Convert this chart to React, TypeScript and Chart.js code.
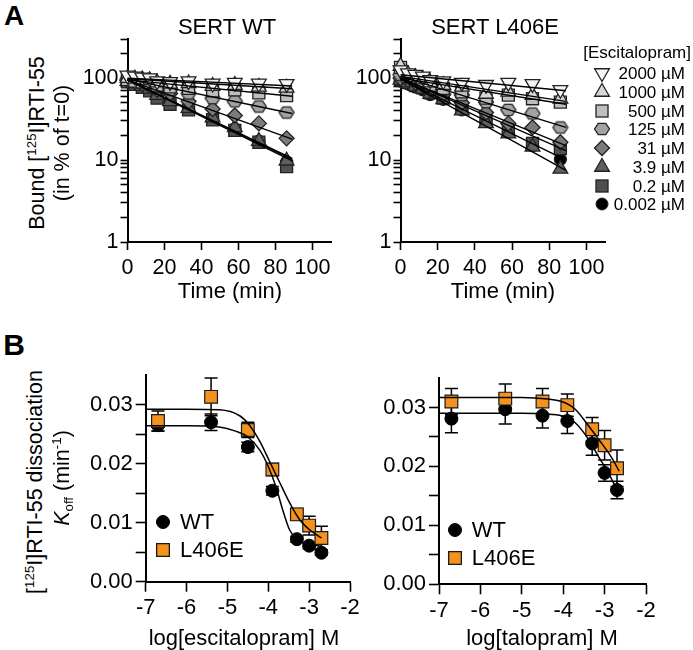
import React, { useEffect, useRef } from 'react';
import { Chart, registerables } from 'chart.js';

Chart.register(...registerables);

const FONT = "'Liberation Sans', Arial, Helvetica, sans-serif";

// ---------------- Panel A data (Bound [125I]RTI-55, % of t=0) ----------------
const TIMES = [0, 4, 8, 12, 16, 23, 33, 46, 58, 71, 86];
const FIT_T = [0, 89];
const CONC_LABELS = ['2000 µM', '1000 µM', '500 µM', '125 µM', '31 µM', '3.9 µM', '0.2 µM', '0.002 µM'];

const WT_2000 = [108, 105, 102, 100, 92, 90, 92, 86, 88, 86, 85];
const WT_1000 = [100, 98, 96, 94, 88, 85, 86, 80, 82, 78, 76];
const WT_500 = [96, 92, 90, 88, 82, 78, 75, 70, 72, 66, 61];
const WT_125 = [96, 92, 88, 84, 78, 72, 65, 57, 52, 45, 38];
const WT_31 = [94, 90, 85, 80, 72, 65, 52, 42, 35, 28, 18.4];
const WT_3_9 = [92, 86, 80, 74, 62, 52, 43, 33, 25, 17, 9.8];
const WT_0_2 = [90, 84, 77, 70, 57, 48, 41, 31, 23, 16.5, 8.3];
const WT_0_002 = [91, 85, 78, 72, 59, 50, 42, 32, 24, 17, 9.5];

const WT_FIT_2000 = [100, 80];
const WT_FIT_1000 = [98, 74];
const WT_FIT_500 = [95, 60];
const WT_FIT_125 = [97, 37];
const WT_FIT_31 = [95, 18];
const WT_FIT_3_9 = [95, 10.5];
const WT_FIT_0_2 = [95, 9.8];
const WT_FIT_0_002 = [95, 10.2];

const L_2000 = [125, 115, 110, 105, 95, 92, 88, 83, 88, 85, 72];
const L_1000 = [140, 112, 102, 96, 88, 82, 78, 64, 68, 62, 56];
const L_500 = [135, 105, 95, 90, 82, 75, 68, 57, 62, 56, 51];
const L_125 = [110, 100, 94, 88, 80, 72, 62, 51, 41, 37, 25];
const L_31 = [100, 95, 88, 82, 72, 63, 50, 38, 28, 25, 16.5];
const L_3_9 = [95, 88, 80, 74, 64, 55, 40, 28, 21, 14.5, 7.8];
const L_0_2 = [96, 88, 81, 76, 66, 57, 43, 31, 24, 16, 13.8];
const L_0_002 = [92, 85, 78, 72, 63, 55, 41, 30, 22, 15, 10.2];

const L_FIT_2000 = [110, 70];
const L_FIT_1000 = [105, 52];
const L_FIT_500 = [100, 48];
const L_FIT_125 = [105, 25];
const L_FIT_31 = [100, 15];
const L_FIT_3_9 = [98, 7.5];
const L_FIT_0_2 = [100, 13];
const L_FIT_0_002 = [98, 10];

const WT_SERIES = [WT_2000, WT_1000, WT_500, WT_125, WT_31, WT_3_9, WT_0_2, WT_0_002];
const WT_FITS = [WT_FIT_2000, WT_FIT_1000, WT_FIT_500, WT_FIT_125, WT_FIT_31, WT_FIT_3_9, WT_FIT_0_2, WT_FIT_0_002];
const L_SERIES = [L_2000, L_1000, L_500, L_125, L_31, L_3_9, L_0_2, L_0_002];
const L_FITS = [L_FIT_2000, L_FIT_1000, L_FIT_500, L_FIT_125, L_FIT_31, L_FIT_3_9, L_FIT_0_2, L_FIT_0_002];

const A_X_TICKS = [0, 20, 40, 60, 80, 100];
const A_Y_TICKS = [1, 2, 3, 4, 5, 6, 7, 8, 9, 10, 20, 30, 40, 50, 60, 70, 80, 90, 100, 200, 300];
const A_Y_LABELED = [1, 10, 100];

// ---------------- Panel B data (Koff, min^-1) ----------------
const LOG_CONC = [-6.7, -5.4, -4.5, -3.9, -3.3, -3.0, -2.7];

const ESC_WT_KOFF = [0.0265, 0.0270, 0.0228, 0.0154, 0.0072, 0.0061, 0.0049];
const ESC_WT_SEM = [0.0010, 0.0014, 0.0008, 0.0007, 0.0005, 0.0005, 0.0004];
const ESC_L_KOFF = [0.0272, 0.0313, 0.0257, 0.0190, 0.0114, 0.0095, 0.0074];
const ESC_L_SEM = [0.0017, 0.0032, 0.0013, 0.0010, 0.0010, 0.0016, 0.0020];

const ESC_WT_CURVE_X = [-7, -6, -5.2, -4.8, -4.5, -4.2, -4.0, -3.8, -3.64, -3.48, -3.32, -3.15, -3.0, -2.7];
const ESC_WT_CURVE_Y = [0.0264, 0.0264, 0.0262, 0.0255, 0.0245, 0.0222, 0.0195, 0.0158, 0.0120, 0.0088, 0.0073, 0.0066, 0.0063, 0.0060];
const ESC_L_CURVE_X = [-7, -6, -5.2, -4.7, -4.46, -4.21, -3.97, -3.72, -3.48, -3.23, -2.99, -2.7];
const ESC_L_CURVE_Y = [0.0292, 0.0292, 0.0291, 0.0281, 0.0265, 0.0238, 0.0204, 0.0168, 0.0134, 0.0105, 0.0088, 0.0074];

const TAL_WT_KOFF = [0.0281, 0.0297, 0.0286, 0.0277, 0.0239, 0.0189, 0.0160];
const TAL_WT_SEM = [0.0024, 0.0025, 0.0021, 0.0021, 0.0020, 0.0014, 0.0015];
const TAL_L_KOFF = [0.0310, 0.0315, 0.0310, 0.0304, 0.0263, 0.0236, 0.0197];
const TAL_L_SEM = [0.0022, 0.0025, 0.0022, 0.0019, 0.0020, 0.0025, 0.0031];

const TAL_WT_CURVE_X = [-7, -6, -5, -4.44, -4.04, -3.71, -3.39, -3.15, -2.91, -2.7];
const TAL_WT_CURVE_Y = [0.0290, 0.0290, 0.0290, 0.0289, 0.0286, 0.0274, 0.0246, 0.0217, 0.0189, 0.0160];
const TAL_L_CURVE_X = [-7, -6, -5, -4.68, -4.04, -3.71, -3.39, -3.07, -2.83, -2.65];
const TAL_L_CURVE_Y = [0.0317, 0.0317, 0.0317, 0.0316, 0.0310, 0.0297, 0.0269, 0.0239, 0.0215, 0.0192];

const B_X_TICKS = [-7, -6, -5, -4, -3, -2];
const B_Y_TICKS = [0, 0.005, 0.01, 0.015, 0.02, 0.025, 0.03];
const B_Y_LABELED = [0, 0.01, 0.02, 0.03];

// ---------------- Styles ----------------
type Shape = 'triangle' | 'rect' | 'hexagon' | 'rectRot' | 'circle';
const A_STYLES: { shape: Shape; rotation: number; radius: number; fill: string }[] = [
  { shape: 'triangle', rotation: 180, radius: 8.5, fill: '#f5f5f5' },
  { shape: 'triangle', rotation: 0, radius: 8.5, fill: '#d6d6d6' },
  { shape: 'rect', rotation: 0, radius: 8.5, fill: '#bebebe' },
  { shape: 'hexagon', rotation: 0, radius: 7.5, fill: '#a2a2a2' },
  { shape: 'rectRot', rotation: 0, radius: 7.5, fill: '#7b7b7b' },
  { shape: 'triangle', rotation: 0, radius: 8.5, fill: '#5f5f5f' },
  { shape: 'rect', rotation: 0, radius: 8.5, fill: '#505050' },
  { shape: 'circle', rotation: 0, radius: 6, fill: '#000000' },
];
const MARK_BORDER = '#222222';
const ORANGE = '#F5921E';
const TICK_FONT_A = 21.5;
const TICK_FONT_B = 22;
const TITLE_FONT = 22;

function makeHex(r: number, fill: string, stroke: string, lw: number) {
  const s = Math.ceil(2 * r + lw * 2 + 2);
  const c = document.createElement('canvas');
  c.width = s;
  c.height = s;
  const ctx = c.getContext('2d')!;
  ctx.beginPath();
  for (let k = 0; k < 6; k++) {
    const a = (k * Math.PI) / 3;
    const x = s / 2 + r * Math.cos(a);
    const y = s / 2 + r * 0.88 * Math.sin(a);
    if (k === 0) ctx.moveTo(x, y);
    else ctx.lineTo(x, y);
  }
  ctx.closePath();
  ctx.fillStyle = fill;
  ctx.fill();
  ctx.lineWidth = lw;
  ctx.strokeStyle = stroke;
  ctx.stroke();
  return c;
}

function axisStyle(tickLength: number) {
  return {
    grid: { display: true, drawOnChartArea: false, drawTicks: true, tickLength, tickWidth: 1.6, tickColor: '#000' },
    border: { display: true, color: '#000', width: 2 },
  };
}

type Layout = { left: number; top: number; width: number; height: number; pt: number; pr: number; yW: number; xH: number };

const A_LEFT: Layout = { left: 60, top: 19, width: 291, height: 271, pt: 20, pr: 20, yW: 67.5, xH: 48 };
const A_RIGHT: Layout = { left: 333, top: 19, width: 292, height: 271, pt: 20, pr: 20, yW: 67.5, xH: 48 };
const B_LEFT: Layout = { left: 80, top: 355, width: 300, height: 275, pt: 20, pr: 30, yW: 65.7, xH: 48.3 };
const B_RIGHT: Layout = { left: 372, top: 358, width: 304, height: 272, pt: 20, pr: 30, yW: 67, xH: 45.7 };

function buildA(canvas: HTMLCanvasElement, series: number[][], fits: number[][], lay: Layout) {
  const datasets: any[] = [];
  fits.forEach((fit) => {
    datasets.push({
      data: FIT_T.map((t, i) => ({ x: t, y: fit[i] })),
      showLine: true,
      pointRadius: 0,
      borderColor: '#000',
      borderWidth: 1.4,
      order: 0,
      clip: false,
    });
  });
  series.forEach((vals, k) => {
    const st = A_STYLES[k];
    datasets.push({
      data: TIMES.map((t, i) => ({ x: t, y: vals[i] })),
      showLine: false,
      pointStyle: st.shape === 'hexagon' ? makeHex(st.radius, st.fill, MARK_BORDER, 1.3) : st.shape,
      pointRotation: st.rotation,
      pointRadius: st.radius,
      pointBackgroundColor: st.fill,
      pointBorderColor: MARK_BORDER,
      pointBorderWidth: 1.3,
      order: 1,
      clip: false,
    });
  });
  return new Chart(canvas, {
    type: 'scatter',
    data: { datasets },
    options: {
      responsive: false,
      animation: false,
      events: [],
      layout: { padding: { left: 0, top: lay.pt, right: lay.pr, bottom: 0 } },
      plugins: { legend: { display: false }, tooltip: { enabled: false } },
      scales: {
        x: {
          type: 'linear',
          min: 0,
          max: 110,
          afterBuildTicks: (s: any) => {
            s.ticks = A_X_TICKS.map((v) => ({ value: v }));
          },
          afterFit: (s: any) => {
            s.height = lay.xH;
          },
          ...axisStyle(8),
          ticks: { font: { size: TICK_FONT_A, family: FONT }, color: '#000', padding: 5, maxRotation: 0, autoSkip: false, callback: (v: any) => String(v) },
        },
        y: {
          type: 'logarithmic',
          min: 1,
          max: 300,
          afterBuildTicks: (s: any) => {
            s.ticks = A_Y_TICKS.map((v) => ({ value: v }));
          },
          afterFit: (s: any) => {
            s.width = lay.yW;
          },
          ...axisStyle(7),
          ticks: {
            font: { size: TICK_FONT_A, family: FONT },
            color: '#000',
            padding: 2,
            autoSkip: false,
            callback: (v: any) => (A_Y_LABELED.includes(Number(v)) ? String(v) : ''),
          },
        },
      },
    } as any,
  });
}

function errorBarPlugin(sets: { x: number[]; y: number[]; e: number[] }[]) {
  return {
    id: 'errorBars',
    beforeDatasetsDraw(chart: any) {
      const { ctx, scales } = chart;
      ctx.save();
      ctx.strokeStyle = '#000';
      ctx.lineWidth = 1.5;
      sets.forEach((s) => {
        s.x.forEach((xv, i) => {
          const px = scales.x.getPixelForValue(xv);
          const top = scales.y.getPixelForValue(s.y[i] + s.e[i]);
          const bot = scales.y.getPixelForValue(s.y[i] - s.e[i]);
          ctx.beginPath();
          ctx.moveTo(px, top);
          ctx.lineTo(px, bot);
          ctx.moveTo(px - 6.5, top);
          ctx.lineTo(px + 6.5, top);
          ctx.moveTo(px - 6.5, bot);
          ctx.lineTo(px + 6.5, bot);
          ctx.stroke();
        });
      });
      ctx.restore();
    },
  };
}

function buildB(
  canvas: HTMLCanvasElement,
  wt: number[],
  wtE: number[],
  lv: number[],
  lE: number[],
  wcx: number[],
  wcy: number[],
  lcx: number[],
  lcy: number[],
  lay: Layout
) {
  const curve = (xs: number[], ys: number[]) => ({
    data: xs.map((x, i) => ({ x, y: ys[i] })),
    showLine: true,
    pointRadius: 0,
    borderColor: '#000',
    borderWidth: 1.5,
    cubicInterpolationMode: 'monotone',
    order: 0,
    clip: false,
  });
  const datasets: any[] = [
    curve(wcx, wcy),
    curve(lcx, lcy),
    {
      data: LOG_CONC.map((x, i) => ({ x, y: lv[i] })),
      showLine: false,
      pointStyle: 'rect',
      pointRadius: 9,
      pointBackgroundColor: ORANGE,
      pointBorderColor: '#1a1a1a',
      pointBorderWidth: 1.2,
      order: 1,
      clip: false,
    },
    {
      data: LOG_CONC.map((x, i) => ({ x, y: wt[i] })),
      showLine: false,
      pointStyle: 'circle',
      pointRadius: 6.5,
      pointBackgroundColor: '#000',
      pointBorderColor: '#000',
      pointBorderWidth: 1,
      order: 2,
      clip: false,
    },
  ];
  return new Chart(canvas, {
    type: 'scatter',
    data: { datasets },
    plugins: [
      errorBarPlugin([
        { x: LOG_CONC, y: wt, e: wtE },
        { x: LOG_CONC, y: lv, e: lE },
      ]),
    ],
    options: {
      responsive: false,
      animation: false,
      events: [],
      layout: { padding: { left: 0, top: lay.pt, right: lay.pr, bottom: 0 } },
      plugins: { legend: { display: false }, tooltip: { enabled: false } },
      scales: {
        x: {
          type: 'linear',
          min: -7,
          max: -2,
          afterBuildTicks: (s: any) => {
            s.ticks = B_X_TICKS.map((v) => ({ value: v }));
          },
          afterFit: (s: any) => {
            s.height = lay.xH;
          },
          ...axisStyle(10),
          ticks: { font: { size: TICK_FONT_B, family: FONT }, color: '#000', padding: 3, maxRotation: 0, autoSkip: false, callback: (v: any) => String(v) },
        },
        y: {
          type: 'linear',
          min: 0,
          max: 0.035,
          afterBuildTicks: (s: any) => {
            s.ticks = B_Y_TICKS.map((v) => ({ value: v }));
          },
          afterFit: (s: any) => {
            s.width = lay.yW;
          },
          ...axisStyle(10),
          ticks: {
            font: { size: TICK_FONT_B, family: FONT },
            color: '#000',
            padding: 3,
            autoSkip: false,
            callback: (v: any) => (B_Y_LABELED.some((l) => Math.abs(l - Number(v)) < 1e-9) ? Number(v).toFixed(2) : ''),
          },
        },
      },
    } as any,
  });
}

// ---------------- HTML text helpers ----------------
function Txt(props: { x: number; y: number; size: number; rot?: boolean; bold?: boolean; align?: 'center' | 'left' | 'right'; children: React.ReactNode }) {
  const { x, y, size, rot, bold, align = 'center', children } = props;
  let transform = 'translate(-50%,-50%)';
  if (align === 'left') transform = 'translate(0,-50%)';
  if (align === 'right') transform = 'translate(-100%,-50%)';
  if (rot) transform += ' rotate(-90deg)';
  return (
    <div
      style={{
        position: 'absolute',
        left: x,
        top: y,
        transform,
        fontSize: size,
        fontWeight: bold ? 'bold' : 'normal',
        lineHeight: 1,
        whiteSpace: 'nowrap',
        fontFamily: FONT,
        color: '#000',
      }}
    >
      {children}
    </div>
  );
}

const Sup = ({ children }: { children: React.ReactNode }) => (
  <span style={{ fontSize: '0.62em', position: 'relative', top: '-0.6em' }}>{children}</span>
);
const Sub = ({ children }: { children: React.ReactNode }) => (
  <span style={{ fontSize: '0.62em', position: 'relative', top: '0.3em' }}>{children}</span>
);

function Marker({ cx, cy, shape, rotation, radius, fill, stroke }: { cx: number; cy: number; shape: Shape; rotation: number; radius: number; fill: string; stroke: string }) {
  const size = 24;
  const c = size / 2;
  const r = radius;
  let el: React.ReactNode = null;
  if (shape === 'triangle') {
    const s = rotation === 180 ? -1 : 1;
    const pts = [
      [c, c - s * r],
      [c + 0.866 * r, c + (s * r) / 2],
      [c - 0.866 * r, c + (s * r) / 2],
    ];
    el = <polygon points={pts.map((p) => p.join(',')).join(' ')} fill={fill} stroke={stroke} strokeWidth={1.3} />;
  } else if (shape === 'rect') {
    const h = r * Math.SQRT1_2;
    el = <rect x={c - h} y={c - h} width={2 * h} height={2 * h} fill={fill} stroke={stroke} strokeWidth={1.3} />;
  } else if (shape === 'rectRot') {
    const pts = [
      [c, c - r],
      [c + r, c],
      [c, c + r],
      [c - r, c],
    ];
    el = <polygon points={pts.map((p) => p.join(',')).join(' ')} fill={fill} stroke={stroke} strokeWidth={1.3} />;
  } else if (shape === 'hexagon') {
    const pts = [0, 1, 2, 3, 4, 5].map((k) => [c + r * Math.cos((k * Math.PI) / 3), c + r * 0.88 * Math.sin((k * Math.PI) / 3)]);
    el = <polygon points={pts.map((p) => p.join(',')).join(' ')} fill={fill} stroke={stroke} strokeWidth={1.3} />;
  } else {
    el = <circle cx={c} cy={c} r={r} fill={fill} stroke={stroke} strokeWidth={1} />;
  }
  return (
    <svg width={size} height={size} style={{ position: 'absolute', left: cx - c, top: cy - c }}>
      {el}
    </svg>
  );
}

const LEGEND_A_ROW0 = 73.3;
const LEGEND_A_STEP = 18.7;

export default function App() {
  const aL = useRef<HTMLCanvasElement>(null);
  const aR = useRef<HTMLCanvasElement>(null);
  const bL = useRef<HTMLCanvasElement>(null);
  const bR = useRef<HTMLCanvasElement>(null);

  useEffect(() => {
    const charts: Chart[] = [];
    Chart.defaults.font.family = FONT;
    Chart.defaults.color = '#000';
    if (aL.current) charts.push(buildA(aL.current, WT_SERIES, WT_FITS, A_LEFT));
    if (aR.current) charts.push(buildA(aR.current, L_SERIES, L_FITS, A_RIGHT));
    if (bL.current)
      charts.push(
        buildB(bL.current, ESC_WT_KOFF, ESC_WT_SEM, ESC_L_KOFF, ESC_L_SEM, ESC_WT_CURVE_X, ESC_WT_CURVE_Y, ESC_L_CURVE_X, ESC_L_CURVE_Y, B_LEFT)
      );
    if (bR.current)
      charts.push(
        buildB(bR.current, TAL_WT_KOFF, TAL_WT_SEM, TAL_L_KOFF, TAL_L_SEM, TAL_WT_CURVE_X, TAL_WT_CURVE_Y, TAL_L_CURVE_X, TAL_L_CURVE_Y, B_RIGHT)
      );
    return () => charts.forEach((c) => c.destroy());
  }, []);

  const cv = (lay: Layout) => ({ position: 'absolute' as const, left: lay.left, top: lay.top, width: lay.width, height: lay.height });

  return (
    <div style={{ position: 'absolute', left: 0, top: 0, width: 693, height: 650, background: '#fff', overflow: 'hidden', fontFamily: FONT }}>
      <canvas ref={aL} width={A_LEFT.width} height={A_LEFT.height} style={cv(A_LEFT)} />
      <canvas ref={aR} width={A_RIGHT.width} height={A_RIGHT.height} style={cv(A_RIGHT)} />
      <canvas ref={bL} width={B_LEFT.width} height={B_LEFT.height} style={cv(B_LEFT)} />
      <canvas ref={bR} width={B_RIGHT.width} height={B_RIGHT.height} style={cv(B_RIGHT)} />

      <Txt x={14} y={16} size={28} bold>A</Txt>
      <Txt x={14} y={345} size={30} bold>B</Txt>

      <Txt x={227} y={27} size={TITLE_FONT}>SERT WT</Txt>
      <Txt x={495} y={27} size={TITLE_FONT}>SERT L406E</Txt>

      <Txt x={38} y={143} size={21.5} rot>
        Bound [<Sup>125</Sup>I]RTI-55
      </Txt>
      <Txt x={63} y={143} size={21.5} rot>
        (in % of t=0)
      </Txt>

      <Txt x={230} y={291} size={TITLE_FONT}>Time (min)</Txt>
      <Txt x={503} y={291} size={TITLE_FONT}>Time (min)</Txt>

      <Txt x={691} y={52} size={17} align="right">[Escitalopram]</Txt>
      {CONC_LABELS.map((lab, k) => {
        const y = LEGEND_A_ROW0 + k * LEGEND_A_STEP;
        const st = A_STYLES[k];
        return (
          <React.Fragment key={lab}>
            <Marker cx={601.7} cy={y} shape={st.shape} rotation={st.rotation} radius={st.radius} fill={st.fill} stroke={MARK_BORDER} />
            <Txt x={685} y={y} size={17} align="right">{lab}</Txt>
          </React.Fragment>
        );
      })}

      <Txt x={36} y={482} size={21.5} rot>
        [<Sup>125</Sup>I]RTI-55 dissociation
      </Txt>
      <Txt x={63} y={478} size={21.5} rot>
        <i>K</i>
        <Sub>off</Sub> (min<Sup>-1</Sup>)
      </Txt>

      <Txt x={244} y={638} size={TITLE_FONT}>log[escitalopram] M</Txt>
      <Txt x={542} y={638} size={TITLE_FONT}>log[talopram] M</Txt>

      <Marker cx={163.3} cy={521.7} shape="circle" rotation={0} radius={6.5} fill="#000" stroke="#000" />
      <Txt x={180} y={521.7} size={22} align="left">WT</Txt>
      <Marker cx={163.3} cy={550} shape="rect" rotation={0} radius={9} fill={ORANGE} stroke="#1a1a1a" />
      <Txt x={180} y={550} size={22} align="left">L406E</Txt>

      <Marker cx={455} cy={530} shape="circle" rotation={0} radius={6.5} fill="#000" stroke="#000" />
      <Txt x={471.7} y={530} size={22} align="left">WT</Txt>
      <Marker cx={455} cy={558} shape="rect" rotation={0} radius={9} fill={ORANGE} stroke="#1a1a1a" />
      <Txt x={471.7} y={558} size={22} align="left">L406E</Txt>
    </div>
  );
}
